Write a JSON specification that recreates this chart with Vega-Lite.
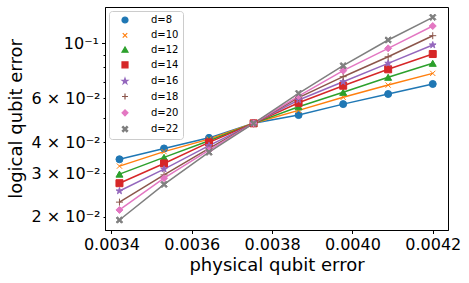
{
  "$schema": "https://vega.github.io/schema/vega-lite/v6.json",
  "width": 343,
  "height": 223,
  "autosize": "none",
  "padding": {"left": 105, "top": 7, "right": 21, "bottom": 53},
  "background": "white",
  "config": {
    "view": {"stroke": "black", "strokeWidth": 1},
    "axis": {
      "domainColor": "black", "tickColor": "black", "labelColor": "black", "titleColor": "black",
      "labelFont": "DejaVu Sans", "titleFont": "DejaVu Sans", "labelFontSize": 16, "titleFontSize": 18,
      "titleFontWeight": "normal", "grid": false, "tickSize": 3.5, "tickWidth": 1, "domainWidth": 1
    },
    "legend": {"labelFont": "DejaVu Sans", "labelFontSize": 10, "labelColor": "black"}
  },
  "data": {
    "values": [
      {"d": 8, "p": 0.00342, "e": 0.0341}, {"d": 8, "p": 0.003531, "e": 0.0377}, {"d": 8, "p": 0.003643, "e": 0.0416}, {"d": 8, "p": 0.003754, "e": 0.0476},
      {"d": 8, "p": 0.003866, "e": 0.0514}, {"d": 8, "p": 0.003977, "e": 0.0569}, {"d": 8, "p": 0.004089, "e": 0.0625}, {"d": 8, "p": 0.0042, "e": 0.0686},
      {"d": 10, "p": 0.00342, "e": 0.0320}, {"d": 10, "p": 0.003531, "e": 0.0366}, {"d": 10, "p": 0.003643, "e": 0.0411}, {"d": 10, "p": 0.003754, "e": 0.0476},
      {"d": 10, "p": 0.003866, "e": 0.0537}, {"d": 10, "p": 0.003977, "e": 0.0606}, {"d": 10, "p": 0.004089, "e": 0.0679}, {"d": 10, "p": 0.0042, "e": 0.0757},
      {"d": 12, "p": 0.00342, "e": 0.0297}, {"d": 12, "p": 0.003531, "e": 0.0347}, {"d": 12, "p": 0.003643, "e": 0.0405}, {"d": 12, "p": 0.003754, "e": 0.0476},
      {"d": 12, "p": 0.003866, "e": 0.0555}, {"d": 12, "p": 0.003977, "e": 0.0635}, {"d": 12, "p": 0.004089, "e": 0.0730}, {"d": 12, "p": 0.0042, "e": 0.0831},
      {"d": 14, "p": 0.00342, "e": 0.0273}, {"d": 14, "p": 0.003531, "e": 0.0328}, {"d": 14, "p": 0.003643, "e": 0.0399}, {"d": 14, "p": 0.003754, "e": 0.0476},
      {"d": 14, "p": 0.003866, "e": 0.0576}, {"d": 14, "p": 0.003977, "e": 0.0675}, {"d": 14, "p": 0.004089, "e": 0.0786}, {"d": 14, "p": 0.0042, "e": 0.0906},
      {"d": 16, "p": 0.00342, "e": 0.0254}, {"d": 16, "p": 0.003531, "e": 0.0311}, {"d": 16, "p": 0.003643, "e": 0.0387}, {"d": 16, "p": 0.003754, "e": 0.0476},
      {"d": 16, "p": 0.003866, "e": 0.0591}, {"d": 16, "p": 0.003977, "e": 0.0700}, {"d": 16, "p": 0.004089, "e": 0.0831}, {"d": 16, "p": 0.0042, "e": 0.0985},
      {"d": 18, "p": 0.00342, "e": 0.0229}, {"d": 18, "p": 0.003531, "e": 0.0295}, {"d": 18, "p": 0.003643, "e": 0.0377}, {"d": 18, "p": 0.003754, "e": 0.0476},
      {"d": 18, "p": 0.003866, "e": 0.0604}, {"d": 18, "p": 0.003977, "e": 0.0734}, {"d": 18, "p": 0.004089, "e": 0.0883}, {"d": 18, "p": 0.0042, "e": 0.1074},
      {"d": 20, "p": 0.00342, "e": 0.0213}, {"d": 20, "p": 0.003531, "e": 0.0286}, {"d": 20, "p": 0.003643, "e": 0.0371}, {"d": 20, "p": 0.003754, "e": 0.0476},
      {"d": 20, "p": 0.003866, "e": 0.0613}, {"d": 20, "p": 0.003977, "e": 0.0776}, {"d": 20, "p": 0.004089, "e": 0.0955}, {"d": 20, "p": 0.0042, "e": 0.1175},
      {"d": 22, "p": 0.00342, "e": 0.0194}, {"d": 22, "p": 0.003531, "e": 0.0270}, {"d": 22, "p": 0.003643, "e": 0.0364}, {"d": 22, "p": 0.003754, "e": 0.0476},
      {"d": 22, "p": 0.003866, "e": 0.0629}, {"d": 22, "p": 0.003977, "e": 0.0813}, {"d": 22, "p": 0.004089, "e": 0.1032}, {"d": 22, "p": 0.0042, "e": 0.1274}
    ]
  },
  "encoding": {
    "x": {
      "field": "p", "type": "quantitative",
      "scale": {"domain": [0.003384, 0.004238], "nice": false, "zero": false},
      "axis": {"values": [0.0034, 0.0036, 0.0038, 0.004, 0.0042], "format": ".4f", "title": "physical qubit error", "labelPadding": 3, "titlePadding": 4}
    },
    "y": {
      "field": "e", "type": "quantitative",
      "scale": {"type": "log", "domain": [0.01768, 0.1402], "nice": false},
      "axis": {
        "values": [0.02, 0.03, 0.04, 0.05, 0.06, 0.07, 0.08, 0.09, 0.1],
        "labelExpr": "round(datum.value*100) == 10 ? '10⁻¹' : (indexof([2,3,4,6], round(datum.value*100)) >= 0 ? round(datum.value*100) + ' × 10⁻²' : '')",
        "tickSize": {"condition": {"test": "datum.value > 0.095", "value": 3.5}, "value": 2},
        "title": "logical qubit error", "labelPadding": 3, "titlePadding": 6
      }
    }
  },
  "layer": [
    {
      "mark": {"type": "line", "strokeWidth": 1.5},
      "encoding": {
        "stroke": {
          "field": "d", "type": "nominal",
          "scale": {"domain": [8, 10, 12, 14, 16, 18, 20, 22], "range": ["#1f77b4", "#ff7f0e", "#2ca02c", "#d62728", "#9467bd", "#8c564b", "#e377c2", "#7f7f7f"]}
        }
      }
    },
    {
      "mark": {"type": "point", "filled": true, "opacity": 1, "size": 49, "strokeWidth": 1},
      "encoding": {
        "color": {
          "field": "d", "type": "nominal",
          "scale": {"domain": [8, 10, 12, 14, 16, 18, 20, 22], "range": ["#1f77b4", "#ff7f0e", "#2ca02c", "#d62728", "#9467bd", "#8c564b", "#e377c2", "#7f7f7f"]},
          "legend": {
            "orient": "none", "legendX": 4, "legendY": 4, "title": null,
            "symbolSize": 36, "symbolStrokeWidth": 1.2, "symbolOffset": 7,
            "labelOffset": 21, "rowPadding": 4.3, "padding": 4,
            "strokeColor": "#cccccc", "cornerRadius": 3,
            "labelExpr": "'d=' + datum.label"
          }
        },
        "stroke": {"field": "d", "type": "nominal"},
        "shape": {
          "field": "d", "type": "nominal",
          "scale": {
            "domain": [8, 10, 12, 14, 16, 18, 20, 22],
            "range": ["circle", "M-0.75,-0.75L0.75,0.75M-0.75,0.75L0.75,-0.75", "triangle-up", "square",
              "M0,-1L0.2245,-0.309L0.951,-0.309L0.3633,0.118L0.588,0.809L0,0.382L-0.588,0.809L-0.3633,0.118L-0.951,-0.309L-0.2245,-0.309Z",
              "M-1,0L1,0M0,-1L0,1", "diamond",
              "M0.92,-0.58L0.34,0L0.92,0.58L0.58,0.92L0,0.34L-0.58,0.92L-0.92,0.58L-0.34,0L-0.92,-0.58L-0.58,-0.92L0,-0.34L0.58,-0.92Z"]
          }
        }
      }
    }
  ]
}
